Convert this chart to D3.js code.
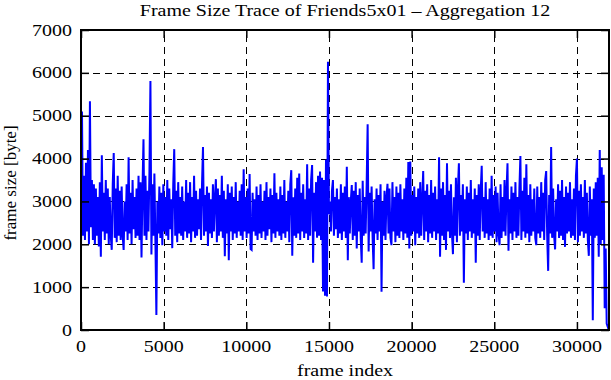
<!DOCTYPE html>
<html><head><meta charset="utf-8">
<script src="https://cdn.jsdelivr.net/npm/d3@7"></script>
<style>body{margin:0;background:#fff}</style>
</head><body>
<svg id="c" width="611" height="380"></svg>
<script>
const title = "Frame Size Trace of Friends5x01 \u2013 Aggregation 12";
const xLabel = "frame index";
const yLabel = "frame size [byte]";
const xTicks = [0, 5000, 10000, 15000, 20000, 25000, 30000];
const yTicks = [0, 1000, 2000, 3000, 4000, 5000, 6000, 7000];
const xDomain = [0, 31940];
const yDomain = [0, 7000];
const sampleStep = 60; // frames between plotted samples
const frameSizes = [
1800,5100,2200,3600,2100,3900,2300,4200,2000,5340,2400,3500,2100,3400,2000,3300,2200,3100,1950,3450,
1710,4080,2300,3200,2100,3500,2250,3300,2000,3100,2200,1870,3400,4130,2150,3300,2050,3600,2200,3250,
2100,3350,2200,1870,3000,2300,3400,2100,4030,2250,3200,2000,3500,2350,3100,2150,3300,2200,3600,2100,
3450,1690,3300,4450,2200,3600,2100,3250,2300,3700,5810,1760,3400,2200,3650,2100,350,3000,2250,3350,
2150,3200,1980,3400,2300,3100,2200,3500,2100,3300,2350,3050,1910,3400,4220,2200,3250,2050,3450,2250,
3100,2200,3350,2100,3000,2300,3500,2150,3200,2250,3450,2050,3100,2300,3600,2150,3250,2200,3050,2350,
3300,2100,3400,4270,2200,3150,2300,3350,1960,3200,2250,3050,2150,3400,2300,3100,3520,2050,3300,2200,
3150,2300,3600,2150,3250,1720,3050,2250,3400,1630,3200,2300,3350,2100,3100,2250,3450,2150,3000,2300,
3250,2200,3400,2100,3750,2300,3100,2150,3300,2250,3640,1890,1870,3200,2300,3050,2200,3350,2100,3150,
2250,3400,2150,3000,2300,3250,2100,3450,2200,3100,2350,3300,2050,3150,2250,3660,2150,3200,2300,3050,
2200,3350,2100,3150,2250,3500,2150,3000,2300,3250,2050,3400,3730,1730,3100,2200,3300,2150,3550,2250,
3650,2100,3200,2300,3400,2150,3050,2250,3870,2100,3300,2200,3500,3850,1570,3200,2300,3450,2150,3600,
2200,3700,2100,3550,900,3500,800,3970,780,6260,2700,3000,2300,3250,3500,2200,3100,2350,3300,2150,
3050,2250,3400,2100,3200,2300,3350,2150,3810,1630,3100,2250,3000,3380,2100,3250,2200,3450,1900,3150,
2300,3300,2150,1570,3480,2200,3100,2250,3400,4800,1830,3200,2300,3350,2150,1420,3050,2250,3300,2100,
3150,2300,3400,890,3000,2200,3250,2100,3100,3410,2250,3300,2150,1980,3450,2300,3100,2050,3350,2200,
3200,2150,3400,2300,3050,2100,3300,2250,3550,2150,3920,1900,3930,2200,3150,2300,3350,1980,3100,2250,
3300,2150,3450,2200,3050,3710,2100,3250,2300,3400,2050,3150,2250,3500,2150,3200,2300,3350,2100,3050,
2250,4030,1710,3300,2200,3450,2100,3150,1870,3890,2300,3250,2150,3400,2250,1770,3100,2200,3550,2050,
3300,3890,2200,3150,2300,3400,1100,3050,2250,3350,2100,3200,2300,3500,2150,3050,2250,3300,1570,3150,
2200,3400,2100,3250,3830,2300,3100,2150,3450,2250,3050,2100,3300,2200,3600,2150,3150,2300,3350,2050,
3200,2250,1980,3400,2150,3100,2300,3500,2200,3250,3890,1850,3050,2250,3350,2100,3200,2300,3450,2150,
3100,2200,3300,4060,2100,3250,2300,3550,2150,3870,2250,3150,2050,3400,2200,3050,2300,3300,2150,1980,
3350,2250,3100,2150,3450,2300,3200,2100,3500,3710,2200,1380,3150,2250,4270,2150,3300,2200,1880,3050,
2300,3400,2150,3250,2200,3500,2100,3100,1940,3350,2250,3200,2300,3450,2150,3050,2200,3300,2100,3600,
4000,2050,3250,2200,3400,2300,3100,2150,3500,2250,3200,2100,1730,3350,2200,3050,230,3300,2150,3450,
2200,3550,1710,4200,2000,3800,2100,3620,510,1900,150,80,0
];

const W = 611, H = 380;
const m = {left: 81, right: 609, top: 30, bottom: 330};
const font = "'Liberation Serif','Times New Roman',Times,serif";
const sx = 1.25;

const svg = d3.select("#c");
const x = d3.scaleLinear().domain(xDomain).range([m.left, m.right]);
const y = d3.scaleLinear().domain(yDomain).range([m.bottom, m.top]);

// grid
const grid = svg.append("g").attr("stroke", "#000").attr("stroke-width", 1).attr("stroke-dasharray", "7,5");
grid.selectAll("line.gx").data(xTicks.filter(d => d > 0)).join("line")
  .attr("x1", d => Math.round(x(d)) + 0.5).attr("x2", d => Math.round(x(d)) + 0.5)
  .attr("y1", m.bottom).attr("y2", m.top);
grid.selectAll("line.gy").data(yTicks.filter(d => d > 0 && d < 7000)).join("line")
  .attr("y1", d => Math.round(y(d)) + 0.5).attr("y2", d => Math.round(y(d)) + 0.5)
  .attr("x1", m.left).attr("x2", m.right);

// data line
const line = d3.line().x((d, i) => x(i * sampleStep)).y(d => y(d));
svg.append("path").datum(frameSizes)
  .attr("fill", "none").attr("stroke", "#0000ff").attr("stroke-width", 2)
  .attr("d", line);

// axes with inward ticks on all sides
const tl = 8;
const axB = d3.axisBottom(x).tickValues(xTicks).tickSizeInner(-tl).tickSizeOuter(0).tickFormat("");
const axT = d3.axisTop(x).tickValues(xTicks).tickSizeInner(-tl).tickSizeOuter(0).tickFormat("");
const axL = d3.axisLeft(y).tickValues(yTicks).tickSizeInner(-tl).tickSizeOuter(0).tickFormat("");
const axR = d3.axisRight(y).tickValues(yTicks).tickSizeInner(-tl).tickSizeOuter(0).tickFormat("");
[[axB, `translate(0,${m.bottom})`], [axT, `translate(0,${m.top})`],
 [axL, `translate(${m.left},0)`], [axR, `translate(${m.right},0)`]].forEach(([ax, t]) => {
  const g = svg.append("g").attr("transform", t).call(ax);
  g.select(".domain").remove();
  g.selectAll("line").attr("stroke", "#000").attr("stroke-width", 1.5);
});

// frame
svg.append("rect").attr("x", m.left).attr("y", m.top)
  .attr("width", m.right - m.left).attr("height", m.bottom - m.top)
  .attr("fill", "none").attr("stroke", "#000").attr("stroke-width", 2);

// text helper (horizontally stretched like the reference)
function txt(xp, yp, s, anchor, size) {
  return svg.append("text").attr("transform", `translate(${xp},${yp}) scale(${sx},1)`)
    .attr("text-anchor", anchor).attr("font-family", font).attr("font-size", size)
    .attr("fill", "#000").text(s);
}
xTicks.forEach(d => txt(x(d), 352, d3.format("d")(d), "middle", 16));
yTicks.forEach(d => txt(72, y(d) + 5.5, d3.format("d")(d), "end", 16));
txt((m.left + m.right) / 2, 16, title, "middle", 16);
txt((m.left + m.right) / 2, 376, xLabel, "middle", 16);
svg.append("text")
  .attr("transform", `translate(16,${(m.top + m.bottom) / 2 + 3}) rotate(-90)`)
  .attr("text-anchor", "middle").attr("font-family", font).attr("font-size", 17)
  .attr("fill", "#000").text(yLabel);
</script>
</body></html>
